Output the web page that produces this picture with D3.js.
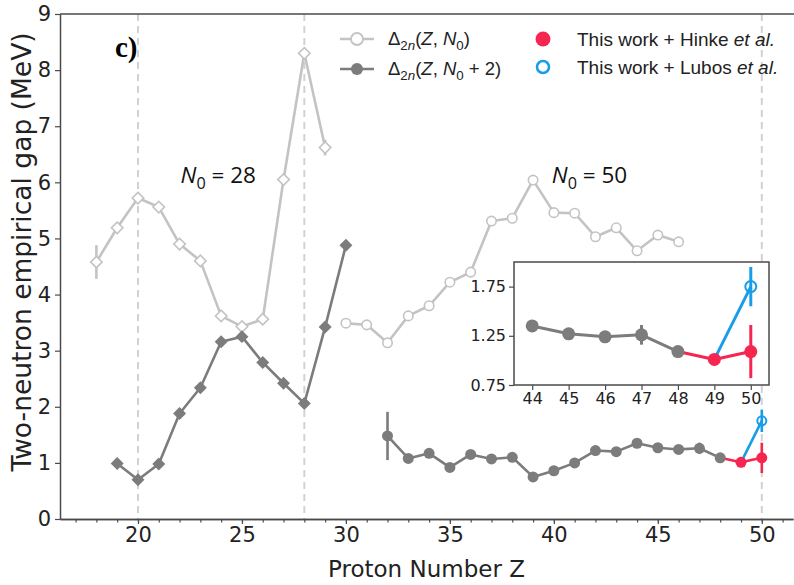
<!DOCTYPE html>
<html>
<head>
<meta charset="utf-8">
<script src="https://cdn.jsdelivr.net/npm/d3@7"></script>
<style>
  html, body { margin: 0; padding: 0; background: #fff; }
  svg { display: block; }
</style>
</head>
<body>
<div id="chart"></div>
<script>
// Delta_2n(Z, N0) for N0 = 28
const zN28 = [18, 19, 20, 21, 22, 23, 24, 25, 26, 27, 28, 29];
const gapN28 = [4.58, 5.19, 5.72, 5.56, 4.90, 4.60, 3.62, 3.43, 3.56, 6.05, 8.30, 6.62];
const errN28 = [0.30, 0, 0, 0, 0, 0, 0, 0, 0, 0, 0, 0.14];

// Delta_2n(Z, N0 + 2) for N0 = 28
const zN28p2 = [19, 20, 21, 22, 23, 24, 25, 26, 27, 28, 29, 30];
const gapN28p2 = [0.99, 0.70, 0.98, 1.88, 2.34, 3.16, 3.25, 2.79, 2.42, 2.06, 3.42, 4.88];

// Delta_2n(Z, N0) for N0 = 50
const zN50 = [30, 31, 32, 33, 34, 35, 36, 37, 38, 39, 40, 41, 42, 43, 44, 45, 46];
const gapN50 = [3.49, 3.46, 3.14, 3.62, 3.80, 4.22, 4.40, 5.31, 5.36, 6.04, 5.46, 5.45, 5.03, 5.19, 4.78, 5.06, 4.94];

// Delta_2n(Z, N0 + 2) for N0 = 50
const zN50p2 = [32, 33, 34, 35, 36, 37, 38, 39, 40, 41, 42, 43, 44, 45, 46, 47, 48];
const gapN50p2 = [1.48, 1.08, 1.17, 0.92, 1.15, 1.07, 1.10, 0.75, 0.86, 1.00, 1.22, 1.20, 1.35, 1.27, 1.24, 1.26, 1.09];
const errN50p2 = [0.43, 0, 0, 0, 0, 0, 0, 0, 0, 0, 0, 0, 0, 0, 0, 0.10, 0];

// this work + Hinke et al. / Lubos et al.
const zHinke = [49, 50];
const gapHinke = [1.01, 1.09];
const errHinke = [0.04, 0.27];
const zLubos = [50];
const gapLubos = [1.75];
const errLubos = [0.20];

const magicZ = [20, 28, 50];
const xMajorTicks = [20, 25, 30, 35, 40, 45, 50];
const yTicks = [0, 1, 2, 3, 4, 5, 6, 7, 8, 9];
const insetXTicks = [44, 45, 46, 47, 48, 49, 50];
const insetYTicks = [0.75, 1.25, 1.75];

const LIGHT = '#c3c3c3';
const DARK = '#7c7c7c';
const RED = '#f5264f';
const BLUE = '#189ee8';
const SPINE = '#4a4a4a';
const TICK_FONT = 'DejaVu Sans, sans-serif';

const width = 794, height = 585;
const svg = d3.select('#chart').append('svg')
  .attr('width', width)
  .attr('height', height)
  .attr('viewBox', `0 0 ${width} ${height}`);

const x = d3.scaleLinear().domain([16.25, 51.5]).range([60, 793]);
const y = d3.scaleLinear().domain([0, 9]).range([519, 14]);

const zip = (xs, ys, es) => xs.map((z, i) => ({z: z, v: ys[i], e: es ? es[i] : 0}));

// text with sub/italic pieces
function richText(sel, parts, size) {
  let shift = 0;
  parts.forEach(p => {
    let target = p.sub ? size * 0.25 : 0;
    sel.append('tspan')
      .attr('dy', target - shift)
      .style('font-size', p.sub ? (size * 0.72) + 'px' : size + 'px')
      .style('font-style', p.it ? 'italic' : 'normal')
      .text(p.t);
    shift = target;
  });
}

function markerPath(kind, size) {
  if (kind === 'diamond') return d3.symbol(d3.symbolSquare, size)();
  return d3.symbol(d3.symbolCircle, size)();
}

function drawLine(g, xs, ys, data, color, lw) {
  g.append('path')
    .datum(data)
    .attr('fill', 'none')
    .attr('stroke', color)
    .attr('stroke-width', lw)
    .attr('stroke-linejoin', 'round')
    .attr('d', d3.line().x(d => xs(d.z)).y(d => ys(d.v)));
}

function drawErrors(g, xs, ys, data, color, lw) {
  g.append('g').selectAll('line')
    .data(data.filter(d => d.e > 0))
    .enter().append('line')
    .attr('x1', d => xs(d.z)).attr('x2', d => xs(d.z))
    .attr('y1', d => ys(d.v - d.e)).attr('y2', d => ys(d.v + d.e))
    .attr('stroke', color)
    .attr('stroke-width', lw);
}

function drawMarkers(g, xs, ys, data, opts) {
  g.append('g').selectAll('path')
    .data(data)
    .enter().append('path')
    .attr('d', markerPath(opts.kind, opts.size))
    .attr('transform', d => `translate(${xs(d.z)},${ys(d.v)})` + (opts.kind === 'diamond' ? ' rotate(45)' : ''))
    .attr('fill', opts.fill)
    .attr('stroke', opts.stroke)
    .attr('stroke-width', opts.sw);
}

function drawSeries(g, xs, ys, data, opts) {
  drawLine(g, xs, ys, data, opts.color, opts.lw);
  drawErrors(g, xs, ys, data, opts.color, opts.lw);
  drawMarkers(g, xs, ys, data, {
    kind: opts.kind, size: opts.size,
    fill: opts.open ? 'white' : opts.color,
    stroke: opts.color, sw: opts.open ? 1.6 : 0
  });
}

// magic number guides
svg.append('g').selectAll('line')
  .data(magicZ)
  .enter().append('line')
  .attr('x1', d => x(d)).attr('x2', d => x(d))
  .attr('y1', y(9)).attr('y2', y(0))
  .attr('stroke', '#d2d2d2')
  .attr('stroke-width', 2)
  .attr('stroke-dasharray', '7,5');

// axes
const xMinor = d3.axisBottom(x).tickValues(d3.range(17, 52)).tickSize(3.5).tickSizeOuter(0).tickFormat('');
const xMajor = d3.axisBottom(x).tickValues(xMajorTicks).tickSize(5).tickSizeOuter(0).tickPadding(3);
const yAxis = d3.axisLeft(y).tickValues(yTicks).tickSize(5).tickSizeOuter(0).tickPadding(4);

function styleAxis(g, fontSize) {
  g.selectAll('path.domain').attr('stroke', SPINE).attr('stroke-width', 1.5);
  g.selectAll('.tick line').attr('stroke', SPINE).attr('stroke-width', 1.2);
  g.selectAll('.tick text').attr('fill', '#222')
    .style('font-family', TICK_FONT).style('font-size', fontSize + 'px');
}

svg.append('g').attr('transform', `translate(0,${y(0)})`).call(xMinor).call(g => styleAxis(g, 21));
svg.append('g').attr('transform', `translate(0,${y(0)})`).call(xMajor).call(g => styleAxis(g, 21));
svg.append('g').attr('transform', `translate(${x.range()[0]},0)`).call(yAxis).call(g => styleAxis(g, 21));

svg.append('line')
  .attr('x1', x.range()[0]).attr('x2', width)
  .attr('y1', y(9)).attr('y2', y(9))
  .attr('stroke', SPINE).attr('stroke-width', 1.5);

svg.append('text')
  .attr('x', (x.range()[0] + x.range()[1]) / 2)
  .attr('y', 577)
  .attr('text-anchor', 'middle')
  .style('font-family', TICK_FONT).style('font-size', '23px').attr('fill', '#222')
  .text('Proton Number Z');

svg.append('text')
  .attr('transform', 'translate(31,252) rotate(-90)')
  .attr('text-anchor', 'middle')
  .style('font-family', TICK_FONT).style('font-size', '26.5px').attr('fill', '#222')
  .text('Two-neutron empirical gap (MeV)');

// data
const plot = svg.append('g');
const sN50p2 = zip(zN50p2, gapN50p2, errN50p2);
const last = sN50p2[sN50p2.length - 1];
const sHinke = zip(zHinke, gapHinke, errHinke);
const sLubos = zip(zLubos, gapLubos, errLubos);

drawSeries(plot, x, y, zip(zN28, gapN28, errN28), {color: LIGHT, lw: 2.6, kind: 'diamond', size: 66, open: true});
drawSeries(plot, x, y, zip(zN28p2, gapN28p2), {color: DARK, lw: 2.6, kind: 'diamond', size: 84, open: false});
drawSeries(plot, x, y, zip(zN50, gapN50), {color: LIGHT, lw: 2.6, kind: 'circle', size: 70, open: true});

function drawTail(g, xs, ys, lw, r, fromZ) {
  drawLine(g, xs, ys, [sHinke[0]].concat(sLubos), BLUE, lw);
  drawLine(g, xs, ys, [last].concat(sHinke), RED, lw);
  drawSeries(g, xs, ys, sN50p2.filter(d => d.z >= fromZ), {color: DARK, lw: lw, kind: 'circle', size: Math.PI * r * r, open: false});
  drawErrors(g, xs, ys, sLubos, BLUE, lw);
  drawErrors(g, xs, ys, sHinke, RED, lw);
  drawMarkers(g, xs, ys, sHinke, {kind: 'circle', size: Math.PI * r * r, fill: RED, stroke: RED, sw: 0});
  drawMarkers(g, xs, ys, sLubos, {kind: 'circle', size: Math.PI * (r - 1) * (r - 1), fill: 'none', stroke: BLUE, sw: 2});
}
drawTail(plot, x, y, 2.6, 5.5, 0);

// annotations
svg.append('text')
  .attr('x', 115).attr('y', 57)
  .style('font-family', 'Liberation Serif, serif').style('font-weight', 'bold').style('font-size', '29px')
  .text('c)');

const annotations = [{z: 22.05, v: 6.0, label: '28'}, {z: 39.9, v: 6.0, label: '50'}];
annotations.forEach(a => {
  let t = svg.append('text')
    .attr('x', x(a.z)).attr('y', y(a.v) + 1)
    .style('font-family', 'Open Sans, sans-serif').attr('fill', '#111');
  richText(t, [{t: 'N', it: true}, {t: '0', sub: true}, {t: ' = ' + a.label}], 22.5);
});

// legend
const legend = svg.append('g').style('font-family', 'Liberation Sans, Arial, sans-serif');
const legendRows = [
  {y: 39, color: LIGHT, open: true, parts: [{t: 'Δ'}, {t: '2', sub: true}, {t: 'n', sub: true, it: true}, {t: '('}, {t: 'Z', it: true}, {t: ', '}, {t: 'N', it: true}, {t: '0', sub: true}, {t: ')'}]},
  {y: 69, color: DARK, open: false, parts: [{t: 'Δ'}, {t: '2', sub: true}, {t: 'n', sub: true, it: true}, {t: '('}, {t: 'Z', it: true}, {t: ', '}, {t: 'N', it: true}, {t: '0', sub: true}, {t: ' + 2)'}]}
];
legendRows.forEach(r => {
  legend.append('line').attr('x1', 340).attr('x2', 374).attr('y1', r.y).attr('y2', r.y)
    .attr('stroke', r.color).attr('stroke-width', 2.6);
  legend.append('circle').attr('cx', 357).attr('cy', r.y).attr('r', 6)
    .attr('fill', r.open ? 'white' : r.color).attr('stroke', r.color).attr('stroke-width', r.open ? 1.8 : 0);
  let t = legend.append('text').attr('x', 388).attr('y', r.y + 6).attr('fill', '#222');
  richText(t, r.parts, 18.5);
});

const legendRight = [
  {y: 39, name: 'Hinke', color: RED, open: false},
  {y: 67, name: 'Lubos', color: BLUE, open: true}
];
legendRight.forEach(r => {
  legend.append('circle').attr('cx', 543).attr('cy', r.y).attr('r', r.open ? 6 : 7.5)
    .attr('fill', r.open ? 'none' : r.color).attr('stroke', r.color).attr('stroke-width', r.open ? 2.6 : 0);
  let t = legend.append('text').attr('x', 577).attr('y', r.y + 7).attr('fill', '#222').style('font-size', '19px');
  t.append('tspan').text(`This work + ${r.name} `);
  t.append('tspan').style('font-style', 'italic').text('et al.');
});

// inset
const xi = d3.scaleLinear().domain([43.5, 50.5]).range([514, 769]);
const yi = d3.scaleLinear().domain([0.75, 2.0]).range([385, 262]);
const inset = svg.append('g');
inset.append('rect')
  .attr('x', xi.range()[0]).attr('y', yi.range()[1])
  .attr('width', xi.range()[1] - xi.range()[0]).attr('height', yi.range()[0] - yi.range()[1])
  .attr('fill', 'white');

const clip = inset.append('g');
drawTail(clip, xi, yi, 3, 6.5, 44);
inset.append('rect')
  .attr('x', xi.range()[0]).attr('y', yi.range()[1])
  .attr('width', xi.range()[1] - xi.range()[0]).attr('height', yi.range()[0] - yi.range()[1])
  .attr('fill', 'none').attr('stroke', SPINE).attr('stroke-width', 1.5);

inset.append('g').attr('transform', `translate(0,${yi.range()[0]})`)
  .call(d3.axisBottom(xi).tickValues(insetXTicks).tickSize(5).tickSizeOuter(0).tickPadding(3).tickFormat(d3.format('d')))
  .call(g => { styleAxis(g, 16); g.select('path.domain').remove(); });
inset.append('g').attr('transform', `translate(${xi.range()[0]},0)`)
  .call(d3.axisLeft(yi).tickValues(insetYTicks).tickSize(5).tickSizeOuter(0).tickPadding(3).tickFormat(d3.format('.2f')))
  .call(g => { styleAxis(g, 16); g.select('path.domain').remove(); });

// clip inset content to its frame
svg.append('defs').append('clipPath').attr('id', 'inset-clip')
  .append('rect')
  .attr('x', xi.range()[0]).attr('y', yi.range()[1])
  .attr('width', xi.range()[1] - xi.range()[0]).attr('height', yi.range()[0] - yi.range()[1]);
clip.attr('clip-path', 'url(#inset-clip)');
</script>
</body>
</html>
